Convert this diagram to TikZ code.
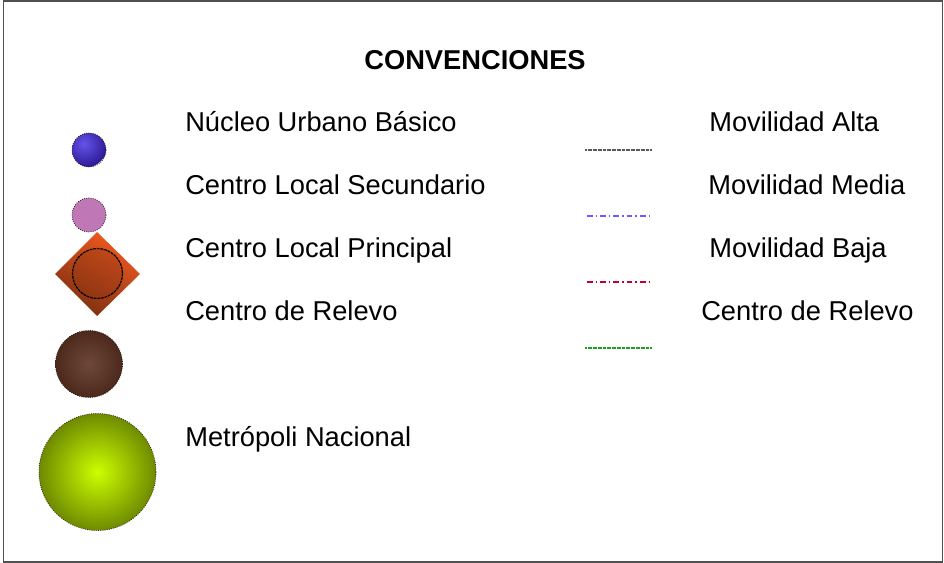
\documentclass[tikz,border=0pt]{standalone}
\usepackage{fontspec}
\setmainfont{Liberation Sans}
\usetikzlibrary{shapes.geometric}
\definecolor{marcogris}{HTML}{505050}
\definecolor{azulnucleo}{HTML}{4A34E8}
\definecolor{azuloscuro}{HTML}{2A1890}
\definecolor{rosalocal}{HTML}{C077B6}
\definecolor{naranjacentro}{HTML}{F25A20}
\definecolor{cafecentro}{HTML}{8A3412}
\definecolor{cafereleve}{HTML}{5A3020}
\definecolor{verdemetro}{HTML}{CCFF00}
\definecolor{verdeborde}{HTML}{6F8A00}
\definecolor{azulmedia}{HTML}{6A5CFF}
\definecolor{rojobaja}{HTML}{C0002E}
\definecolor{verderelevo}{HTML}{1E9E1E}
\tikzset{
  etiqueta/.style={anchor=base west, inner sep=0pt, font=\fontsize{19.4}{23}\selectfont},
  borde/.style={draw=black!85, densely dotted, line width=0.02cm},
  linea/.style={line width=0.045cm}
}
\begin{document}
\begin{tikzpicture}[x=0.025cm, y=-0.025cm]
  \useasboundingbox (0,0) rectangle (944,563);

  % Drawing frame
  \draw [marcogris, line width=0.04cm] (3.5,1) rectangle (942.5,562);

  % Title
  \node [anchor=base, inner sep=0pt, font=\fontsize{19.4}{23}\selectfont\bfseries] (titulo) at (475,70) {CONVENCIONES};

  % Marking Nucleo Urbano Basico
  \begin{scope}
    \clip (89,150) circle (17);
    \shade [inner color=azulnucleo!85!white, outer color=azuloscuro] (84,144) circle (24);
  \end{scope}
  \draw [borde] (89,150) circle (17);
  \node [etiqueta] (nucleo) at (185,131.5) {Núcleo Urbano Básico};

  % Marking Centro Local Secundario
  \draw [borde, fill=rosalocal] (89,215) circle (17);
  \node [etiqueta] (secundario) at (185,194.5) {Centro Local Secundario};

  % Marking Centro Local Principal by diamond
  \shade [top color=naranjacentro, bottom color=cafecentro!90!black, shading angle=-30]
    (55,274) -- (97,232) -- (140,274) -- (97,316) -- cycle;
  \draw [draw=black, dash pattern=on 2pt off 0.6pt, line width=0.03cm,
         fill=cafecentro, fill opacity=0.35] (97.5,273.5) circle (25);
  \node [etiqueta] (principal) at (185,257.5) {Centro Local Principal};

  % Marking Centro de Relevo
  \draw [borde, inner color=cafereleve!88!white, outer color=cafereleve!85!black] (89,364) circle (33.5);
  \node [etiqueta] (relevo) at (185,320.5) {Centro de Relevo};

  % Marking Metropoli Nacional
  \draw [borde, inner color=verdemetro, outer color=verdeborde] (97.5,472) circle (58.5);
  \node [etiqueta] (metropoli) at (185,446.5) {Metrópoli Nacional};

  % Drawing line Movilidad Alta
  \node [etiqueta] (alta) at (709,131.5) {Movilidad Alta};
  \coordinate (altaA) at (585,150);
  \coordinate (altaB) at (651,150);
  \draw [linea, black!65, dash pattern=on 0.6pt off 0.3pt] (altaA) -- (altaB);

  % Drawing line Movilidad Media
  \node [etiqueta] (media) at (708,194.5) {Movilidad Media};
  \coordinate (mediaA) at (587,216);
  \coordinate (mediaB) at (652,216);
  \draw [linea, azulmedia, dash pattern=on 4pt off 2.2pt on 1pt off 2.2pt] (mediaA) -- (mediaB);

  % Drawing line Movilidad Baja
  \node [etiqueta] (baja) at (709,257.5) {Movilidad Baja};
  \coordinate (bajaA) at (587,282);
  \coordinate (bajaB) at (652,282);
  \draw [linea, rojobaja, dash pattern=on 4pt off 2.2pt on 1pt off 2.2pt] (bajaA) -- (bajaB);

  % Drawing line Centro de Relevo
  \node [etiqueta] (relevolinea) at (701,320.5) {Centro de Relevo};
  \coordinate (relevoA) at (585,348);
  \coordinate (relevoB) at (651,348);
  \draw [linea, verderelevo, dash pattern=on 0.6pt off 0.3pt] (relevoA) -- (relevoB);
\end{tikzpicture}
\end{document}
